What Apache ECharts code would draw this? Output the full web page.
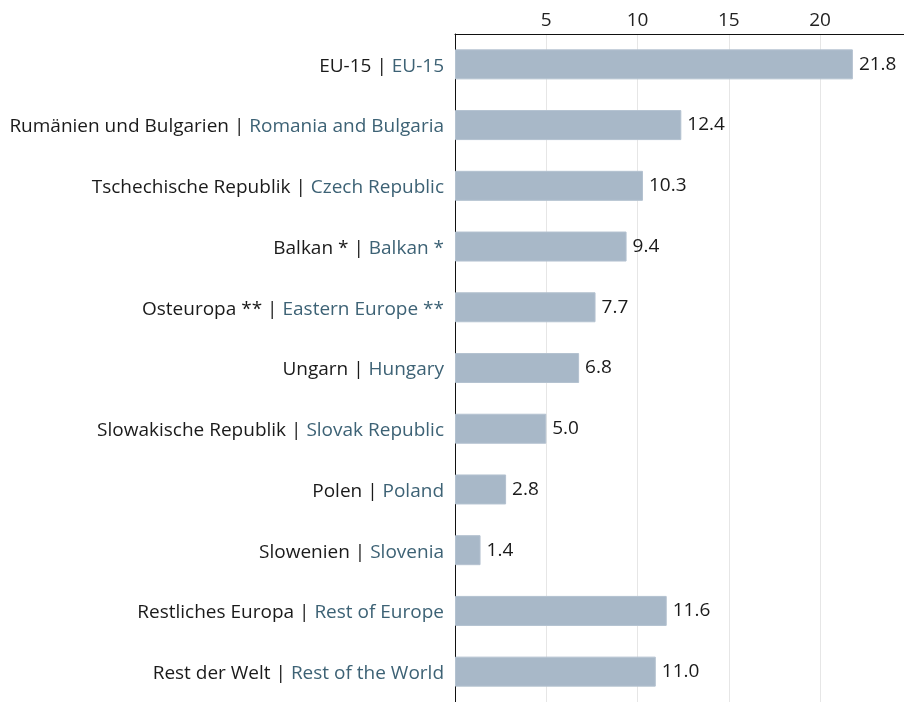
<!DOCTYPE html>
<html><head><meta charset="utf-8">
<script src="https://cdn.jsdelivr.net/npm/echarts@6/dist/echarts.min.js"></script>
<style>html,body{margin:0;padding:0;background:#fff;overflow:hidden}#c{width:904px;height:702px}</style>
</head><body><div id="c"></div>
<script>
const labelsDe = ["EU-15","Rumänien und Bulgarien","Tschechische Republik","Balkan *","Osteuropa **","Ungarn","Slowakische Republik","Polen","Slowenien","Restliches Europa","Rest der Welt"];
const labelsEn = ["EU-15","Romania and Bulgaria","Czech Republic","Balkan *","Eastern Europe **","Hungary","Slovak Republic","Poland","Slovenia","Rest of Europe","Rest of the World"];
const values = [21.8,12.4,10.3,9.4,7.7,6.8,5.0,2.8,1.4,11.6,11.0];
const tickValues = [5,10,15,20];

const FONT = '"Open Sans", "Noto Sans", sans-serif';
const FS = 19;
const cats = labelsDe.map((d,i)=>d+'|'+labelsEn[i]);
const chart = echarts.init(document.getElementById('c'));
chart.setOption({
  animation:false,
  grid:{left:455,right:-3,top:34,height:671},
  xAxis:{type:'value',position:'top',min:0,max:24.6,interval:5,
    axisLine:{show:true,lineStyle:{color:'#111',width:1}},
    axisTick:{show:false},
    splitLine:{show:true,lineStyle:{color:'#e6e6e6',width:1}},
    axisLabel:{showMinLabel:false,showMaxLabel:false,fontFamily:FONT,fontSize:FS,color:'#222',margin:4,
      formatter:v=>tickValues.includes(v)?String(v):''}},
  yAxis:{type:'category',inverse:true,data:cats,
    axisLine:{show:true,lineStyle:{color:'#111',width:1}},
    axisTick:{show:false},
    axisLabel:{margin:11,fontFamily:FONT,fontSize:FS,padding:[4,0,0,0],
      formatter:v=>{const p=v.split('|');return '{a|'+p[0]+' | }{b|'+p[1]+'}';},
      rich:{a:{color:'#1a1a1a',fontFamily:FONT,fontSize:FS},b:{color:'#3d6275',fontFamily:FONT,fontSize:FS}}}},
  series:[{type:'bar',data:values,barWidth:30,
    itemStyle:{color:'#a8b8c8',borderColor:'#b4c2d0',borderWidth:1},
    label:{show:true,position:'right',distance:6,fontFamily:FONT,fontSize:FS,color:'#1a1a1a',padding:[4,0,0,0],
      formatter:p=>p.value.toFixed(1)}}]
});
</script></body></html>
